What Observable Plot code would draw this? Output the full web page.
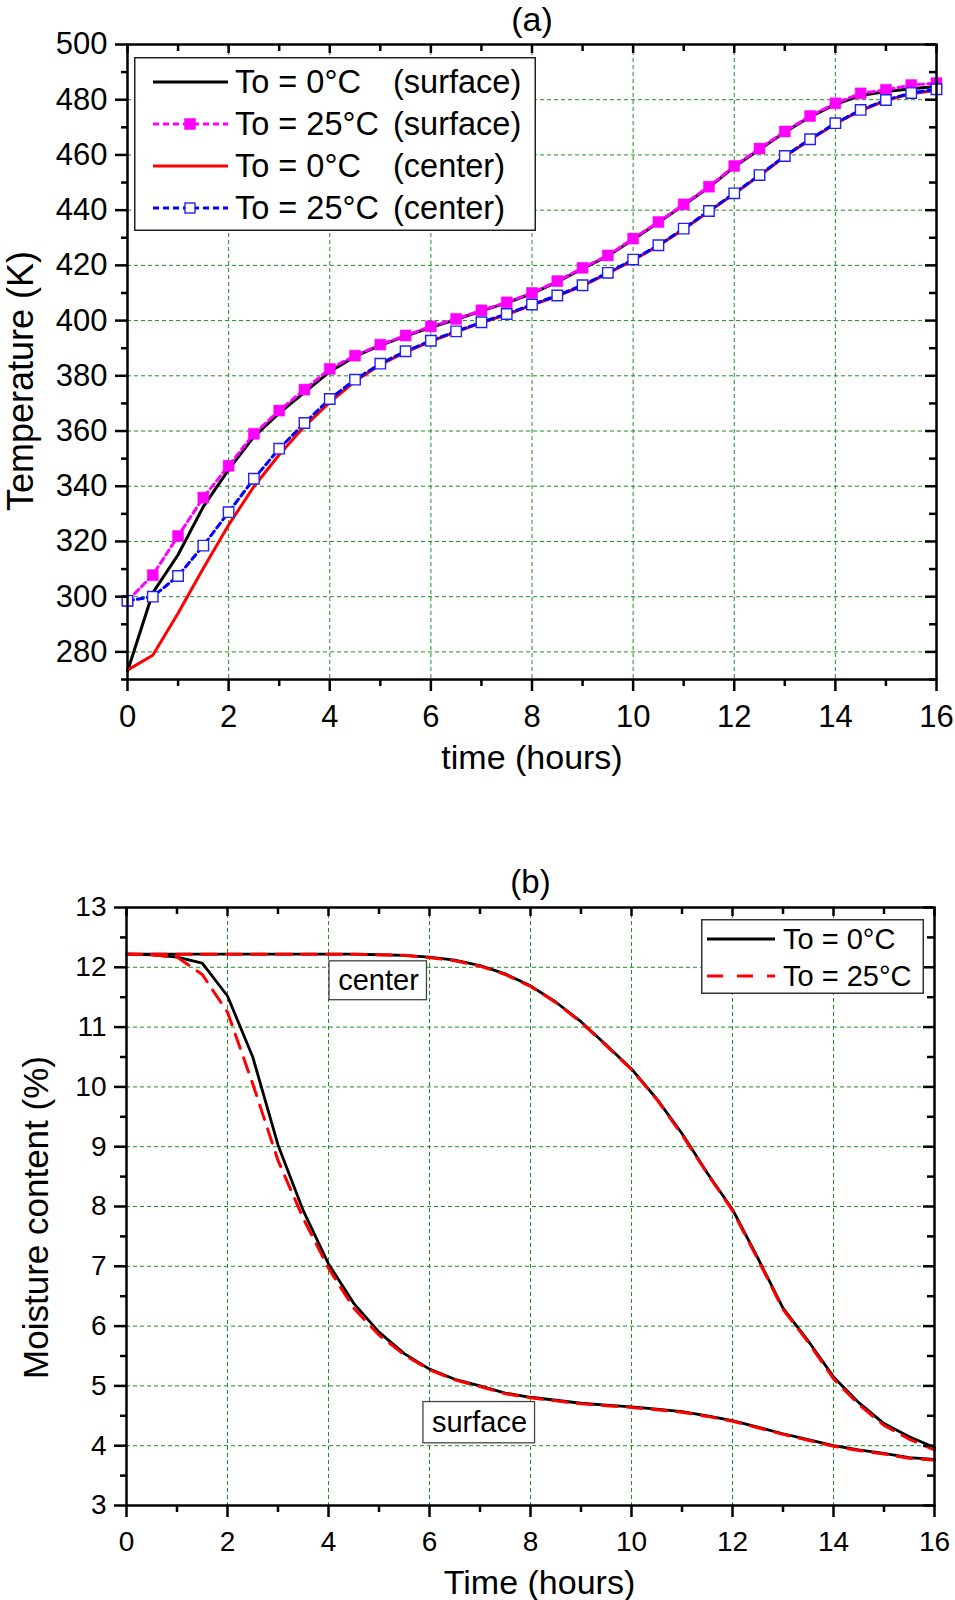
<!DOCTYPE html>
<html>
<head>
<meta charset="utf-8">
<script src="https://cdn.jsdelivr.net/npm/d3@7"></script>
<script src="https://cdn.jsdelivr.net/npm/@observablehq/plot@0.6"></script>
<style>
  body { margin: 0; background: #fff; font-family: Arial, "Liberation Sans", sans-serif; }
  #wrap { position: relative; width: 955px; height: 1600px; overflow: hidden; background: #fff; }
  #wrap svg.chart { position: absolute; left: 0; }
  .legend { position: absolute; }
</style>
</head>
<body>
<div id="wrap"></div>
<script>
// ---------------- DATA (a) : temperature ----------------
const timeA = [0,0.5,1,1.5,2,2.5,3,3.5,4,4.5,5,5.5,6,6.5,7,7.5,8,8.5,9,9.5,10,10.5,11,11.5,12,12.5,13,13.5,14,14.5,15,15.5,16];
const surface0 = [273,301.4,315.2,332.6,346,358,366.5,374,381.5,387,391,394.4,397.6,400.4,403.5,406.4,409.8,414,418.8,423.4,429.4,435.5,441.9,448.3,455.7,462,468.2,473.8,478.3,481.5,483,484,484.8];
const surface25 = [298.5,307.8,322,335.9,347.4,359,367.4,375,382.5,387.3,391.3,394.6,397.9,400.6,403.7,406.6,410,414.3,419.1,423.6,429.7,435.7,442.1,448.5,456,462.3,468.5,474.1,478.7,482.3,483.6,485.3,486];
const center0 = [273.4,278.8,294,310.3,326,339.9,351.4,361.7,370.4,378,384,388.6,392.5,395.9,399.2,402.2,405.6,408.9,412.6,417.1,421.9,427.1,433.1,439.5,445.9,452.5,459.4,465.5,471.3,476.1,479.7,482.2,483.4];
const center25 = [298.5,300,307.5,318.5,330.6,342.7,353.6,362.9,371.6,378.6,384.4,388.9,392.7,396.1,399.4,402.4,405.8,409.1,412.8,417.3,422.1,427.3,433.3,439.7,446.1,452.7,459.6,465.7,471.5,476.3,479.9,482.4,483.8];
const xTicksA = [0,2,4,6,8,10,12,14,16];
const xMinorA = [1,3,5,7,9,11,13,15];
const yTicksA = [280,300,320,340,360,380,400,420,440,460,480,500];
const yMinorA = [270,290,310,330,350,370,390,410,430,450,470,490];
const legendA = ["To = 0°C|(surface)", "To = 25°C|(surface)", "To = 0°C|(center)", "To = 25°C|(center)"];

// ---------------- DATA (b) : moisture ----------------
const timeB = [0,0.5,1,1.5,2,2.5,3,3.5,4,4.5,5,5.5,6,6.5,7,7.5,8,8.5,9,9.5,10,10.5,11,11.5,12,12.5,13,13.5,14,14.5,15,15.5,16];
const mcCenter0 = [12.22,12.22,12.22,12.22,12.22,12.22,12.22,12.22,12.22,12.22,12.21,12.2,12.17,12.12,12.03,11.89,11.69,11.42,11.09,10.7,10.3,9.8,9.22,8.56,7.95,7.14,6.3,5.75,5.15,4.72,4.37,4.15,3.97];
const mcCenter25 = [12.22,12.22,12.22,12.22,12.22,12.22,12.22,12.22,12.22,12.22,12.21,12.2,12.16,12.11,12.02,11.88,11.68,11.41,11.08,10.69,10.29,9.79,9.2,8.55,7.93,7.12,6.28,5.73,5.12,4.69,4.34,4.11,3.93];
const mcSurface0 = [12.22,12.21,12.17,12.07,11.52,10.5,9.03,7.93,7.04,6.38,5.9,5.54,5.28,5.11,5.0,4.88,4.81,4.76,4.71,4.68,4.65,4.61,4.57,4.5,4.42,4.31,4.2,4.1,4.0,3.93,3.87,3.8,3.77];
const mcSurface25 = [12.22,12.21,12.17,11.88,11.25,10.05,8.77,7.8,6.97,6.3,5.85,5.52,5.27,5.1,4.99,4.87,4.8,4.75,4.7,4.67,4.64,4.6,4.56,4.49,4.41,4.3,4.19,4.09,3.99,3.92,3.86,3.79,3.76];
const xTicksB = [0,2,4,6,8,10,12,14,16];
const xMinorB = [1,3,5,7,9,11,13,15];
const yTicksB = [3,4,5,6,7,8,9,10,11,12,13];
const yMinorB = [3.5,4.5,5.5,6.5,7.5,8.5,9.5,10.5,11.5,12.5];
const legendB = ["To = 0°C", "To = 25°C"];
const noteText = ["center", "surface"];
const noteX = [4.99, 6.99];
const noteY = [11.78, 4.39];
const noteX1 = [4.02, 5.88];
const noteX2 = [5.95, 8.09];
const noteY1 = [11.45, 4.04];
const noteY2 = [12.10, 4.73];

// ---------------- helpers ----------------
const FONT = 'Arial, "Liberation Sans", sans-serif';
const GRID = {stroke: "#1f8f1f", strokeOpacity: 1, strokeWidth: 1, strokeDasharray: "4,3"};
const rows = (ts, vs) => ts.map((t, i) => ({t, v: vs[i]}));
const fmt = d => String(d);
const wrap = document.getElementById("wrap");

function frameTicks(o) {
  // inward ticks on top and right, outward on bottom and left
  const iw = o.width - o.ml - o.mr, ih = o.height - o.mt - o.mb;
  return [
    Plot.frame({stroke: "black", strokeWidth: 2.5}),
    Plot.axisX(o.xt, {anchor: "bottom", tickSize: 12, tickPadding: o.xpad, strokeWidth: 2.5, fontSize: o.fs, tickFormat: fmt, label: null}),
    Plot.axisX(o.xm, {anchor: "bottom", tickSize: 7, strokeWidth: 2.5, tickFormat: () => "", label: null}),
    Plot.axisY(o.yt, {anchor: "left", tickSize: 12, tickPadding: 8, strokeWidth: 2.5, fontSize: o.fs, tickFormat: fmt, label: null}),
    Plot.axisY(o.ym, {anchor: "left", tickSize: 6, strokeWidth: 2.5, tickFormat: () => "", label: null}),
    Plot.ruleX(o.xt, {insetBottom: ih - 9, strokeWidth: 2.5}),
    Plot.ruleX(o.xm, {insetBottom: ih - 7, strokeWidth: 2.5}),
    Plot.ruleY(o.yt, {insetLeft: iw - 11, strokeWidth: 2.5}),
    Plot.ruleY(o.ym, {insetLeft: iw - 7, strokeWidth: 2.5})
  ];
}

// ---------------- chart (a) ----------------
const A = {width: 955, height: 800, mt: 44, ml: 127, mr: 19, mb: 121, fs: 31, xpad: 13, xt: xTicksA, xm: xMinorA, yt: yTicksA, ym: yMinorA};
const chartA = Plot.plot({
  width: A.width, height: A.height,
  marginTop: A.mt, marginLeft: A.ml, marginRight: A.mr, marginBottom: A.mb,
  style: {fontFamily: FONT, color: "black", background: "white", overflow: "visible"},
  x: {domain: [0, 16]},
  y: {domain: [270, 500]},
  marks: [
    Plot.gridX([2,4,6,8,10,12,14], GRID),
    Plot.gridY([280,300,320,340,360,380,400,420,440,460,480], GRID),
    Plot.line(rows(timeA, surface0), {x: "t", y: "v", stroke: "black", strokeWidth: 3}),
    Plot.line(rows(timeA, surface25), {x: "t", y: "v", stroke: "#ff00ff", strokeWidth: 3, strokeDasharray: "6,4"}),
    Plot.line(rows(timeA, center0), {x: "t", y: "v", stroke: "#ff0000", strokeWidth: 3}),
    Plot.line(rows(timeA, center25), {x: "t", y: "v", stroke: "#0000ff", strokeWidth: 3, strokeDasharray: "6,4"}),
    Plot.dot(rows(timeA, surface25), {x: "t", y: "v", symbol: "square", r: 6.2, fill: "#ff00ff", stroke: "#ff00ff", strokeWidth: 0.5}),
    Plot.dot(rows(timeA, center25), {x: "t", y: "v", symbol: "square", r: 5.9, fill: "white", stroke: "#2020ff", strokeWidth: 1.4}),
    ...frameTicks(A),
    Plot.text(["(a)"], {frameAnchor: "top", lineAnchor: "middle", dy: -24, fontSize: 34}),
    Plot.text(["time (hours)"], {frameAnchor: "bottom", lineAnchor: "middle", dy: 79, fontSize: 34}),
    Plot.text(["Temperature (K)"], {frameAnchor: "left", textAnchor: "middle", lineAnchor: "middle", rotate: -90, dx: -106, dy: 19, fontSize: 36})
  ]
});
chartA.classList.add("chart");
chartA.style.top = "0px";
wrap.appendChild(chartA);

// ---------------- chart (b) ----------------
const B = {width: 955, height: 800, mt: 107, ml: 126, mr: 21, mb: 95, fs: 28, xpad: 14, xt: xTicksB, xm: xMinorB, yt: yTicksB, ym: yMinorB};
const notes = noteText.map((s, i) => ({s, x: noteX[i], y: noteY[i], x1: noteX1[i], x2: noteX2[i], y1: noteY1[i], y2: noteY2[i]}));
const chartB = Plot.plot({
  width: B.width, height: B.height,
  marginTop: B.mt, marginLeft: B.ml, marginRight: B.mr, marginBottom: B.mb,
  style: {fontFamily: FONT, color: "black", background: "white", overflow: "visible"},
  x: {domain: [0, 16]},
  y: {domain: [3, 13]},
  marks: [
    Plot.gridX([2,4,6,8,10,12,14], GRID),
    Plot.gridY([4,5,6,7,8,9,10,11,12], GRID),
    Plot.line(rows(timeB, mcCenter0), {x: "t", y: "v", stroke: "black", strokeWidth: 2.8}),
    Plot.line(rows(timeB, mcSurface0), {x: "t", y: "v", stroke: "black", strokeWidth: 2.8}),
    Plot.line(rows(timeB, mcCenter25), {x: "t", y: "v", stroke: "#ff0000", strokeWidth: 3, strokeDasharray: "15,10"}),
    Plot.line(rows(timeB, mcSurface25), {x: "t", y: "v", stroke: "#ff0000", strokeWidth: 3, strokeDasharray: "15,10"}),
    Plot.rect(notes, {x1: "x1", x2: "x2", y1: "y1", y2: "y2", fill: "white", stroke: "#444", strokeWidth: 1.3}),
    Plot.text(notes, {x: "x", y: "y", text: "s", fontSize: 29}),
    ...frameTicks(B),
    Plot.text(["(b)"], {frameAnchor: "top", lineAnchor: "middle", dy: -25, fontSize: 33}),
    Plot.text(["Time (hours)"], {frameAnchor: "bottom", lineAnchor: "middle", dy: 78, dx: 9, fontSize: 34}),
    Plot.text(["Moisture content (%)"], {frameAnchor: "left", textAnchor: "middle", lineAnchor: "middle", rotate: -90, dx: -90, dy: 11, fontSize: 35})
  ]
});
chartB.classList.add("chart");
chartB.style.top = "800px";
wrap.appendChild(chartB);

// ---------------- legends ----------------
function svgEl(tag, attrs) {
  const e = document.createElementNS("http://www.w3.org/2000/svg", tag);
  for (const k in attrs) e.setAttribute(k, attrs[k]);
  return e;
}
function square(g, cx, cy, s, fill, stroke, sw) {
  g.appendChild(svgEl("rect", {x: cx - s/2, y: cy - s/2, width: s, height: s, fill, stroke, "stroke-width": sw}));
}

// legend (a)
(function() {
  const W = 402, H = 174;
  const svg = svgEl("svg", {width: W, height: H, class: "legend"});
  svg.style.left = "134px"; svg.style.top = "57px";
  svg.appendChild(svgEl("rect", {x: 0.75, y: 0.75, width: W - 1.5, height: H - 1.5, fill: "white", stroke: "#222", "stroke-width": 1.5}));
  const styles = [
    {stroke: "black", dash: null, marker: null},
    {stroke: "#ff00ff", dash: "6,4", marker: "fill"},
    {stroke: "#ff0000", dash: null, marker: null},
    {stroke: "#0000ff", dash: "6,4", marker: "open"}
  ];
  legendA.forEach((lab, i) => {
    const cy = 25 + i * 42;
    const st = styles[i];
    const ln = svgEl("line", {x1: 19, x2: 94, y1: cy, y2: cy, stroke: st.stroke, "stroke-width": 3});
    if (st.dash) ln.setAttribute("stroke-dasharray", st.dash);
    svg.appendChild(ln);
    if (st.marker === "fill") square(svg, 56, cy, 11, "#ff00ff", "#ff00ff", 0.5);
    if (st.marker === "open") square(svg, 56, cy, 10, "white", "#2020ff", 1.4);
    const [a, b] = lab.split("|");
    const t1 = svgEl("text", {x: 101, y: cy, "font-size": 32.5, "font-family": FONT, "dominant-baseline": "central"});
    t1.textContent = a;
    const t2 = svgEl("text", {x: 259, y: cy, "font-size": 32.5, "font-family": FONT, "dominant-baseline": "central"});
    t2.textContent = b;
    svg.appendChild(t1); svg.appendChild(t2);
  });
  wrap.appendChild(svg);
})();

// legend (b)
(function() {
  const W = 223, H = 75;
  const svg = svgEl("svg", {width: W, height: H, class: "legend"});
  svg.style.left = "701px"; svg.style.top = "919px";
  svg.appendChild(svgEl("rect", {x: 0.75, y: 0.75, width: W - 1.5, height: H - 1.5, fill: "white", stroke: "#333", "stroke-width": 1.5}));
  const styles = [{stroke: "black", dash: null}, {stroke: "#ff0000", dash: "16,14"}];
  legendB.forEach((lab, i) => {
    const cy = 20 + i * 37;
    const ln = svgEl("line", {x1: 6, x2: 74, y1: cy, y2: cy, stroke: styles[i].stroke, "stroke-width": 3});
    if (styles[i].dash) ln.setAttribute("stroke-dasharray", styles[i].dash);
    svg.appendChild(ln);
    const t = svgEl("text", {x: 82, y: cy, "font-size": 29, "font-family": FONT, "dominant-baseline": "central"});
    t.textContent = lab;
    svg.appendChild(t);
  });
  wrap.appendChild(svg);
})();
</script>
</body>
</html>
